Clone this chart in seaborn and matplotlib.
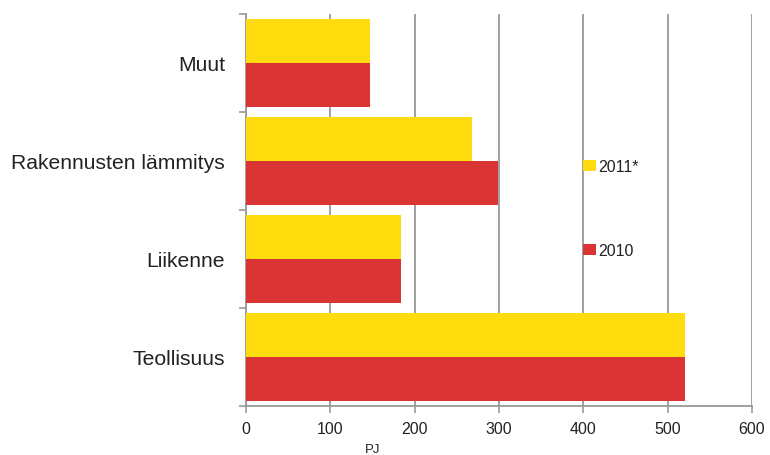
import matplotlib
matplotlib.use("Agg")
import matplotlib.pyplot as plt
import seaborn as sns
import pandas as pd
from matplotlib.patches import Patch

categories = ["Muut", "Rakennusten lämmitys", "Liikenne", "Teollisuus"]
values_2011 = [147, 268, 184, 520]
values_2010 = [147, 299, 184, 521]
years = ["2011*", "2010"]
x_ticks = [0, 100, 200, 300, 400, 500, 600]
unit_label = "PJ"

colors = {"2011*": "#FFDC0E", "2010": "#DB3434"}

df = pd.DataFrame({
    "sector": categories * 2,
    "year": [years[0]] * len(categories) + [years[1]] * len(categories),
    "value": values_2011 + values_2010,
})

sns.set_theme(style="white")
plt.rcParams["font.family"] = ["Liberation Sans", "DejaVu Sans"]

fig = plt.figure(figsize=(7.70, 4.56), dpi=100)
ax = fig.add_axes([246 / 770, 1 - 407 / 456, (752 - 246) / 770, (407 - 15) / 456])

sns.barplot(data=df, y="sector", x="value", hue="year", order=categories,
            hue_order=years, palette=colors, orient="h", width=0.89,
            linewidth=0, saturation=1, legend=False, ax=ax, zorder=3)

ax.set_xlim(0, 600)
ax.set_ylim(3.5, -0.5)
ax.set_xticks(x_ticks)
ax.set_xticklabels([str(t) for t in x_ticks], fontsize=11.5, color="#222222")
ax.grid(axis="x", color="#999999", linewidth=1.3, zorder=0)
ax.grid(axis="y", visible=False)
ax.set_axisbelow(True)

# category labels at centers, tick marks at group boundaries
ax.set_yticks(range(len(categories)))
ax.set_yticklabels(categories, fontsize=15.2, color="#222222")
ax.tick_params(axis="y", which="major", length=0, pad=15)
ax.set_yticks([i - 0.5 for i in range(len(categories) + 1)], minor=True)
ax.tick_params(axis="y", which="minor", length=5, width=1.2, color="#999999", left=True)
ax.tick_params(axis="x", which="major", length=5, width=1.2, color="#999999",
               bottom=True, pad=6)

for side in ["top", "right"]:
    ax.spines[side].set_visible(False)
for side in ["left", "bottom"]:
    ax.spines[side].set_color("#999999")
    ax.spines[side].set_linewidth(1.3)

ax.set_ylabel("")
ax.set_xlabel(unit_label, fontsize=9.5, color="#222222")
ax.xaxis.set_label_coords(0.25, -0.095)

handles = [Patch(facecolor=colors[y], edgecolor="none") for y in years]
leg = ax.legend(handles, years, loc="upper left",
                bbox_to_anchor=(583 / 770, 1 - 160 / 456), bbox_transform=fig.transFigure,
                frameon=False, fontsize=11.5, handlelength=0.8, handleheight=0.7,
                handletextpad=0.15, labelspacing=4.3, borderpad=0, borderaxespad=0)
for t in leg.get_texts():
    t.set_color("#222222")

fig.savefig("out.png", dpi=100)
